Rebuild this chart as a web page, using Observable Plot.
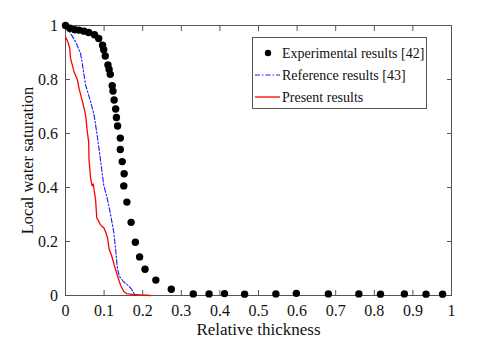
<!DOCTYPE html>
<html>
<head>
<meta charset="utf-8">
<script src="https://cdn.jsdelivr.net/npm/d3@7"></script>
<script src="https://cdn.jsdelivr.net/npm/@observablehq/plot@0.6"></script>
<style>
  body { margin: 0; background: #fff; }
  #chart { width: 498px; height: 340px; }
</style>
</head>
<body>
<div id="chart"></div>
<script>
// Experimental results [42]
const expX = [0, 0.011, 0.024, 0.035, 0.048, 0.060, 0.075, 0.086, 0.096, 0.099, 0.103, 0.110, 0.113, 0.116,
  0.121, 0.123, 0.126, 0.130, 0.132, 0.135, 0.142, 0.142, 0.147, 0.152, 0.151, 0.159, 0.170, 0.181,
  0.192, 0.206, 0.234, 0.274, 0.331, 0.372, 0.412, 0.464, 0.545, 0.598, 0.681, 0.760, 0.816, 0.878, 0.934, 0.977];
const expY = [1.0, 0.990, 0.984, 0.983, 0.979, 0.974, 0.966, 0.952, 0.927, 0.910, 0.887, 0.854, 0.837, 0.819,
  0.777, 0.757, 0.724, 0.691, 0.659, 0.628, 0.583, 0.541, 0.496, 0.451, 0.406, 0.346, 0.271, 0.197,
  0.143, 0.097, 0.057, 0.023, 0.006, 0.006, 0.007, 0.005, 0.006, 0.008, 0.006, 0.006, 0.005, 0.006, 0.005, 0.005];

// Reference results [43]
const refX = [0, 0.013, 0.026, 0.039, 0.044, 0.052, 0.065, 0.074, 0.082, 0.089, 0.094, 0.099, 0.108, 0.117,
  0.125, 0.130, 0.134, 0.139, 0.151, 0.161, 0.171, 0.178, 0.182];
const refY = [1.0, 0.971, 0.940, 0.897, 0.854, 0.780, 0.718, 0.669, 0.594, 0.520, 0.465, 0.409, 0.361, 0.298,
  0.235, 0.169, 0.107, 0.072, 0.050, 0.039, 0.024, 0.006, 0.0];

// Present results
const preX = [0, 0.006, 0.011, 0.013, 0.022, 0.031, 0.035, 0.044, 0.052, 0.056, 0.060, 0.061, 0.065, 0.069,
  0.072, 0.074, 0.078, 0.081, 0.084, 0.087, 0.089, 0.095, 0.099, 0.104, 0.109, 0.113, 0.119, 0.125,
  0.134, 0.143, 0.151, 0.158, 0.173, 0.195, 0.220];
const preY = [0.958, 0.940, 0.916, 0.879, 0.829, 0.798, 0.767, 0.718, 0.669, 0.613, 0.569, 0.502, 0.435, 0.406,
  0.413, 0.391, 0.354, 0.287, 0.280, 0.272, 0.265, 0.255, 0.252, 0.235, 0.213, 0.172, 0.150, 0.119,
  0.076, 0.037, 0.015, 0.007, 0.004, 0.002, 0.0];

const xTicks = [0, 0.1, 0.2, 0.3, 0.4, 0.5, 0.6, 0.7, 0.8, 0.9, 1];
const yTicks = [0, 0.2, 0.4, 0.6, 0.8, 1];
const legendLabels = ["Experimental results [42]", "Reference results [43]", "Present results"];

const exp = expX.map((x, i) => ({x, y: expY[i]}));
const ref = refX.map((x, i) => ({x, y: refY[i]}));
const pre = preX.map((x, i) => ({x, y: preY[i]}));

const axisColor = "#555";
const serif = "'Liberation Serif', 'Times New Roman', serif";
const fmt = d => String(d);

const plot = Plot.plot({
  width: 498,
  height: 340,
  marginLeft: 65,
  marginRight: 47,
  marginTop: 25,
  marginBottom: 45,
  style: {fontFamily: serif, fontSize: "16px", background: "white", color: "#111"},
  x: {domain: [0, 1]},
  y: {domain: [0, 1]},
  marks: [
    Plot.frame({stroke: axisColor}),
    Plot.axisX({ticks: xTicks, tickSize: -5, tickPadding: 14.5, tickFormat: fmt, stroke: axisColor, fontSize: 16,
      label: "Relative thickness", labelAnchor: "center", labelOffset: 39, labelArrow: "none"}),
    Plot.axisX({anchor: "top", ticks: xTicks, tickSize: -5, tickFormat: () => "", label: null, stroke: axisColor}),
    Plot.axisY({ticks: yTicks, tickSize: -5, tickPadding: 12.5, tickFormat: fmt, stroke: axisColor, fontSize: 16,
      label: "Local water saturation", labelAnchor: "center", labelOffset: 44, labelArrow: "none"}),
    Plot.axisY({anchor: "right", ticks: yTicks, tickSize: -5, tickFormat: () => "", label: null, stroke: axisColor}),
    Plot.line(ref, {x: "x", y: "y", stroke: "#1a1aff", strokeWidth: 1.1, strokeDasharray: "5,2,1.5,2"}),
    Plot.line(pre, {x: "x", y: "y", stroke: "#ff0000", strokeWidth: 1.3}),
    Plot.dot(exp, {x: "x", y: "y", r: 3.7, fill: "black"})
  ]
});

document.getElementById("chart").appendChild(plot);

const svg = d3.select(plot);
svg.selectAll("text").style("font-family", serif).style("font-size", "16px");
svg.selectAll("[aria-label='x-axis label'] text").style("font-size", "17px");
svg.selectAll("[aria-label='y-axis label'] text").style("font-size", "16.5px");

// Legend box inside the plot area (upper right), as in the reference
const lg = svg.append("g").attr("text-anchor", "start")
  .style("font-family", serif).style("font-size", "14px").attr("fill", "#111");
lg.append("rect").attr("x", 252.5).attr("y", 37.5).attr("width", 174).attr("height", 71)
  .attr("fill", "white").attr("stroke", axisColor).attr("stroke-width", 1);
const rowsY = [53, 75, 97];
lg.append("circle").attr("cx", 268).attr("cy", rowsY[0]).attr("r", 3.2).attr("fill", "black");
lg.append("line").attr("x1", 255).attr("x2", 280).attr("y1", rowsY[1]).attr("y2", rowsY[1])
  .attr("stroke", "#1a1aff").attr("stroke-width", 1.1).attr("stroke-dasharray", "5,2,1.5,2");
lg.append("line").attr("x1", 255).attr("x2", 280).attr("y1", rowsY[2]).attr("y2", rowsY[2])
  .attr("stroke", "#ff0000").attr("stroke-width", 1.3);
legendLabels.forEach((t, i) => {
  lg.append("text").attr("x", 282).attr("y", rowsY[i]).attr("dy", "0.35em").attr("text-anchor", "start").text(t);
});
</script>
</body>
</html>
